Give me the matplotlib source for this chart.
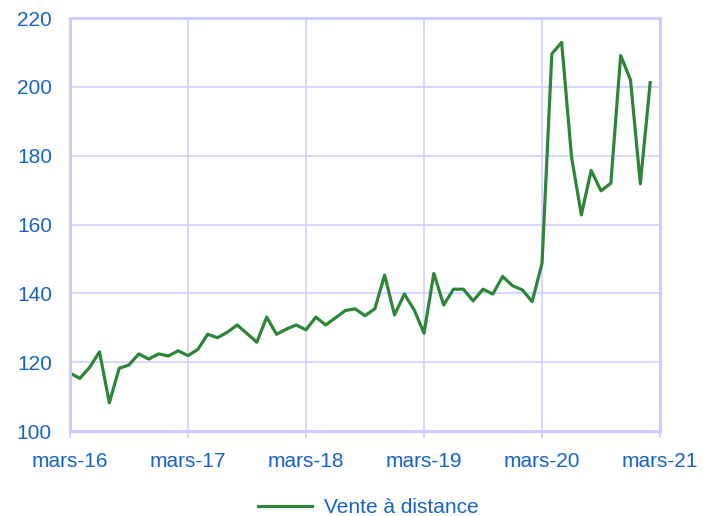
import matplotlib.pyplot as plt
import numpy as np

# Indice mensuel, mars 2016 -> fevrier 2021
vad = [116.8, 115.3, 118.5, 123.0, 108.2, 118.2, 119.2, 122.4, 120.9, 122.4,
       121.8, 123.3, 121.9, 123.7, 128.1, 127.1, 128.7, 130.8, 128.3, 125.8,
       133.1, 128.1, 129.6, 130.8, 129.4, 133.1, 130.8, 132.9, 135.0, 135.5,
       133.5, 135.5, 145.3, 133.7, 139.8, 135.2, 128.4, 145.8, 136.6, 141.2,
       141.2, 137.8, 141.2, 139.8, 144.9, 142.2, 141.0, 137.6, 148.7, 209.6,
       212.9, 179.7, 162.8, 175.7, 169.8, 172.0, 209.1, 202.0, 171.8, 201.2]
serie = "Vente à distance"
xlabels = ["mars-16", "mars-17", "mars-18", "mars-19", "mars-20", "mars-21"]
yticks = [100, 120, 140, 160, 180, 200, 220]

txt = "#1763c4"
grid = "#ccccff"

plt.rcParams['font.family'] = ['Liberation Sans', 'DejaVu Sans']

fig = plt.figure(figsize=(7.08, 5.16), dpi=100)
ax = fig.add_axes([70/708, 85/516, 590/708, 413/516])

months = np.arange(len(vad))
ax.plot(months, vad, color="#2d8538", linewidth=2.3, label=serie)

ax.set_xlim(0, 60)
ax.set_ylim(100, 220)
ax.set_xticks(np.arange(0, 61, 12))
ax.set_xticklabels(xlabels)
ax.set_yticks(yticks)

ax.grid(True, color=grid, linewidth=1.1)
ax.set_axisbelow(True)
for s in ax.spines.values():
    s.set_color(grid)
    s.set_linewidth(2.2)

ax.tick_params(axis='x', colors=grid, length=5, width=1.2, pad=10,
               labelcolor=txt, labelsize=15)
ax.tick_params(axis='y', length=0, pad=13, labelcolor=txt, labelsize=15)

fig.legend(loc='center', bbox_to_anchor=(0.52, 0.016), frameon=False,
           fontsize=15, labelcolor=txt, handlelength=2.6, handletextpad=0.6)

fig.savefig("out.png", dpi=100)
